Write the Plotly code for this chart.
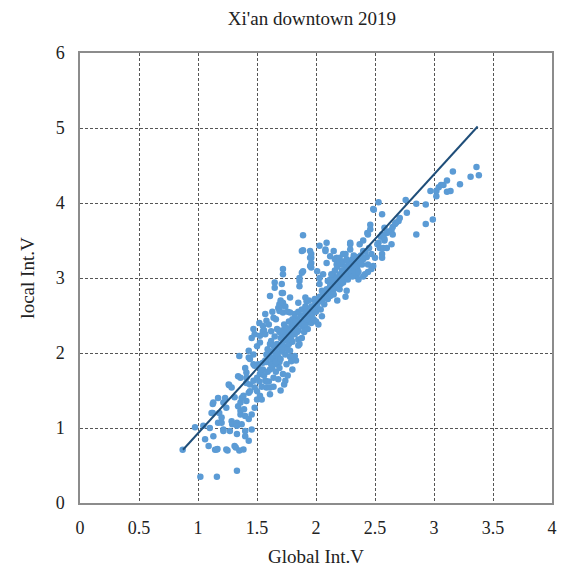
import plotly.graph_objects as go

# Scatter points (Global Int.V, local Int.V)
global_int_v = [
    0.87, 0.975, 1.02, 1.045, 1.06, 1.09, 1.10, 1.115, 1.125, 1.125, 1.13, 1.13, 1.145, 1.16, 1.16, 1.165,
    1.17, 1.17, 1.18, 1.20, 1.20, 1.215, 1.215, 1.215, 1.23, 1.24, 1.24, 1.25, 1.26, 1.265, 1.27, 1.285,
    1.285, 1.29, 1.31, 1.31, 1.32, 1.33, 1.33, 1.33, 1.33, 1.34, 1.34, 1.35, 1.35, 1.36, 1.36, 1.36,
    1.36, 1.37, 1.37, 1.385, 1.385, 1.39, 1.40, 1.40, 1.40, 1.40, 1.41, 1.41, 1.41, 1.41, 1.43, 1.43,
    1.43, 1.43, 1.43, 1.44, 1.44, 1.44, 1.455, 1.455, 1.455, 1.47, 1.47, 1.47, 1.47, 1.48, 1.48, 1.48,
    1.48, 1.50, 1.50, 1.50, 1.50, 1.51, 1.52, 1.525, 1.525, 1.525, 1.525, 1.54, 1.54, 1.55, 1.55, 1.55,
    1.55, 1.56, 1.57, 1.57, 1.57, 1.58, 1.58, 1.58, 1.60, 1.60, 1.60, 1.60, 1.61, 1.61, 1.61, 1.61,
    1.62, 1.62, 1.62, 1.63, 1.63, 1.63, 1.64, 1.64, 1.64, 1.64, 1.65, 1.65, 1.65, 1.65, 1.66, 1.66,
    1.66, 1.67, 1.67, 1.67, 1.68, 1.68, 1.68, 1.69, 1.69, 1.69, 1.69, 1.70, 1.70, 1.70, 1.70, 1.71,
    1.71, 1.71, 1.71, 1.72, 1.72, 1.72, 1.72, 1.72, 1.72, 1.72, 1.73, 1.73, 1.74, 1.74, 1.74, 1.74,
    1.74, 1.75, 1.75, 1.75, 1.76, 1.76, 1.76, 1.77, 1.78, 1.78, 1.78, 1.78, 1.78, 1.79, 1.79, 1.80,
    1.80, 1.80, 1.81, 1.81, 1.82, 1.82, 1.82, 1.83, 1.83, 1.84, 1.85, 1.85, 1.85, 1.85, 1.86, 1.86,
    1.86, 1.86, 1.86, 1.87, 1.88, 1.88, 1.88, 1.88, 1.89, 1.89, 1.89, 1.89, 1.90, 1.90, 1.91, 1.91,
    1.92, 1.92, 1.92, 1.93, 1.93, 1.94, 1.95, 1.95, 1.95, 1.95, 1.96, 1.96, 1.96, 1.96, 1.96, 1.96,
    1.97, 1.98, 1.98, 1.99, 1.99, 1.99, 2.00, 2.00, 2.01, 2.01, 2.02, 2.02, 2.03, 2.03, 2.03, 2.03,
    2.04, 2.05, 2.05, 2.05, 2.06, 2.06, 2.07, 2.08, 2.08, 2.08, 2.09, 2.09, 2.09, 2.10, 2.10, 2.11,
    2.12, 2.12, 2.12, 2.12, 2.13, 2.14, 2.15, 2.15, 2.15, 2.15, 2.16, 2.16, 2.17, 2.175, 2.175, 2.175,
    2.18, 2.18, 2.19, 2.20, 2.20, 2.20, 2.21, 2.22, 2.22, 2.22, 2.23, 2.23, 2.23, 2.24, 2.25, 2.25,
    2.25, 2.26, 2.26, 2.27, 2.27, 2.28, 2.29, 2.29, 2.29, 2.29, 2.30, 2.30, 2.31, 2.32, 2.32, 2.33,
    2.33, 2.34, 2.345, 2.345, 2.35, 2.36, 2.36, 2.37, 2.37, 2.38, 2.39, 2.40, 2.40, 2.40, 2.40, 2.415,
    2.42, 2.43, 2.435, 2.44, 2.44, 2.44, 2.45, 2.46, 2.46, 2.47, 2.47, 2.485, 2.485, 2.49, 2.50, 2.52,
    2.53, 2.53, 2.54, 2.55, 2.56, 2.56, 2.56, 2.56, 2.57, 2.57, 2.58, 2.58, 2.58, 2.60, 2.60, 2.62,
    2.64, 2.64, 2.65, 2.65, 2.67, 2.68, 2.70, 2.71, 2.76, 2.77, 2.85, 2.85, 2.93, 2.93, 2.97, 2.99,
    3.02, 3.02, 3.04, 3.06, 3.08, 3.11, 3.11, 3.14, 3.16, 3.22, 3.31, 3.36, 3.38,
    1.58, 1.59, 1.61, 1.62, 1.64, 1.65, 1.66, 1.67, 1.68, 1.69, 1.70, 1.71, 1.72, 1.73, 1.74, 1.75,
    1.76, 1.77, 1.78, 1.79, 1.80, 1.81, 1.82, 1.83, 1.84, 1.85, 1.87, 1.88, 1.90, 1.91, 1.93, 1.94,
    1.97, 2.00, 2.12, 2.13, 2.14, 2.16, 2.17, 2.18, 2.19, 2.20, 2.21, 2.22, 2.23, 2.24, 2.25, 2.26,
    2.27, 2.28, 2.30, 2.31, 2.32, 2.33, 2.34, 2.36, 2.38, 1.52, 1.53, 1.54, 1.56, 1.57, 1.58, 1.59,
]
local_int_v = [
    0.71, 1.01, 0.35, 1.03, 0.85, 0.76, 1.00, 1.20, 1.32, 1.20, 0.89, 1.34, 0.71, 0.35, 0.715, 0.72,
    1.40, 1.07, 1.20, 1.07, 1.14, 0.98, 1.34, 0.96, 1.40, 1.27, 0.715, 0.70, 1.58, 1.57, 0.96, 1.54,
    1.09, 1.05, 1.41, 0.76, 0.74, 0.43, 0.92, 1.07, 1.03, 1.29, 1.69, 0.70, 1.96, 1.18, 1.23, 1.34,
    1.67, 1.05, 1.40, 1.43, 0.715, 1.25, 0.96, 0.89, 1.80, 1.16, 1.36, 1.67, 1.74, 1.60, 0.83, 1.12,
    1.47, 1.94, 2.03, 1.49, 1.58, 1.92, 1.18, 0.98, 2.20, 1.63, 1.85, 2.32, 1.98, 1.27, 2.25, 1.83,
    1.54, 1.38, 1.49, 2.09, 1.67, 1.85, 2.40, 1.72, 2.23, 2.14, 1.43, 1.72, 1.38, 2.36, 1.87, 1.78,
    2.29, 2.30, 2.52, 1.63, 2.25, 1.98, 2.43, 1.54, 1.95, 1.62, 2.38, 1.98, 1.78, 1.54, 2.76, 1.45,
    2.29, 2.02, 2.16, 1.90, 1.80, 2.55, 1.67, 1.94, 2.47, 1.55, 1.89, 2.94, 2.87, 2.05, 1.98, 1.75,
    2.45, 1.85, 2.12, 2.32, 1.95, 1.65, 2.60, 2.56, 2.65, 1.88, 1.80, 2.10, 2.20, 2.70, 1.50, 2.63,
    2.92, 2.80, 2.02, 3.12, 3.05, 2.54, 2.15, 2.67, 2.80, 1.72, 2.25, 1.58, 1.63, 2.34, 1.98, 2.08,
    2.62, 2.25, 2.18, 1.85, 2.30, 1.70, 2.55, 2.12, 2.54, 2.03, 2.22, 1.95, 2.74, 1.89, 2.35, 2.28,
    2.15, 1.78, 2.34, 2.40, 2.45, 1.96, 2.25, 2.33, 1.90, 2.45, 2.18, 2.30, 2.10, 2.67, 2.96, 2.89,
    2.12, 3.00, 2.38, 2.50, 3.07, 3.36, 2.42, 2.20, 3.57, 3.37, 3.09, 2.35, 2.48, 2.28, 2.55, 2.74,
    2.40, 2.52, 2.69, 2.50, 2.32, 2.58, 3.27, 3.16, 2.45, 3.36, 3.14, 3.27, 3.20, 2.62, 2.40, 3.32,
    2.52, 2.58, 2.45, 2.70, 2.72, 2.63, 2.55, 2.42, 2.62, 3.09, 2.68, 2.38, 2.75, 3.43, 3.00, 2.92,
    2.58, 2.70, 2.49, 2.83, 2.80, 3.05, 2.65, 2.75, 3.38, 3.36, 2.85, 3.47, 3.20, 2.72, 2.96, 2.80,
    2.90, 3.29, 2.85, 2.76, 2.78, 2.95, 2.85, 2.78, 3.03, 3.36, 2.92, 3.25, 3.00, 3.27, 2.87, 3.18,
    2.88, 2.70, 2.98, 3.05, 3.27, 2.85, 2.92, 3.10, 3.18, 3.05, 3.00, 2.94, 3.32, 3.08, 3.15, 3.32,
    2.75, 3.02, 2.83, 3.12, 3.09, 3.20, 3.05, 3.45, 3.38, 3.47, 3.15, 3.23, 3.25, 3.10, 3.05, 3.18,
    3.20, 3.28, 3.14, 3.03, 3.12, 3.22, 2.98, 3.27, 3.45, 3.30, 3.18, 3.25, 3.50, 3.36, 3.02, 3.05,
    3.35, 3.28, 3.60, 3.58, 3.18, 3.08, 3.40, 3.71, 3.65, 3.32, 3.12, 3.92, 3.16, 3.91, 3.27, 3.45,
    4.01, 3.47, 3.40, 3.55, 3.85, 3.32, 3.27, 3.58, 3.56, 3.40, 3.52, 3.50, 3.67, 3.60, 3.40, 3.62,
    3.64, 3.45, 3.68, 3.58, 3.72, 3.74, 3.76, 3.80, 4.04, 3.87, 3.58, 3.99, 3.98, 3.72, 4.16, 3.78,
    4.16, 4.09, 4.21, 4.24, 4.24, 4.30, 4.15, 4.16, 4.42, 4.25, 4.35, 4.48, 4.37,
    1.88, 2.05, 2.12, 1.85, 2.10, 2.22, 1.88, 2.00, 2.08, 2.28, 1.92, 2.30, 2.05, 2.38, 2.20, 2.32,
    2.05, 2.42, 2.30, 2.18, 2.45, 2.32, 2.52, 2.42, 2.28, 2.55, 2.40, 2.58, 2.38, 2.62, 2.45, 2.70,
    2.62, 2.68, 2.98, 3.05, 2.88, 3.10, 2.92, 3.15, 2.95, 3.20, 3.02, 2.95, 3.22, 2.98, 3.05, 3.25,
    2.98, 3.10, 3.08, 3.02, 3.30, 3.08, 3.15, 3.08, 3.20, 1.62, 1.78, 1.55, 1.70, 1.90, 1.62, 1.75,
]

# Linear trend line end points (Global Int.V, local Int.V)
trend_x = [0.873, 3.37]
trend_y = [0.71, 5.02]

x_ticks = [0, 0.5, 1, 1.5, 2, 2.5, 3, 3.5, 4]
y_ticks = [0, 1, 2, 3, 4, 5, 6]

serif = "Liberation Serif, Times New Roman, serif"

fig = go.Figure()
fig.add_trace(go.Scatter(
    x=global_int_v, y=local_int_v, mode="markers",
    marker=dict(color="#5B9BD5", size=6.5, line=dict(width=0)),
    showlegend=False, cliponaxis=False,
))
fig.add_trace(go.Scatter(
    x=trend_x, y=trend_y, mode="lines",
    line=dict(color="#1F4E79", width=2),
    showlegend=False,
))

axis_common = dict(
    showgrid=True, gridcolor="#555555", gridwidth=1, griddash="3px,2px",
    showline=True, linecolor="#8c8c8c", linewidth=1.5, mirror=True,
    zeroline=False, ticks="",
    tickfont=dict(family=serif, size=18, color="#222222"),
)

fig.update_layout(
    width=562, height=571,
    margin=dict(l=80, r=5, t=53, b=68),
    paper_bgcolor="white", plot_bgcolor="white",
    title=dict(text="Xi'an downtown 2019", x=0.555, xanchor="center", y=0.968, yanchor="middle",
               font=dict(family=serif, size=19, color="#222222")),
    xaxis=dict(range=[0, 4], tickvals=x_ticks, ticktext=[f"{v:g}" for v in x_ticks],
               title=dict(text="Global Int.V", font=dict(family=serif, size=19, color="#222222"), standoff=12),
               ticklabelstandoff=8, **axis_common),
    yaxis=dict(range=[0, 6], tickvals=y_ticks, ticktext=[f"{v:g}" for v in y_ticks],
               title=dict(text="local Int.V", font=dict(family=serif, size=19, color="#222222"), standoff=16),
               ticklabelstandoff=10, **axis_common),
)

fig.write_html("out.html")
